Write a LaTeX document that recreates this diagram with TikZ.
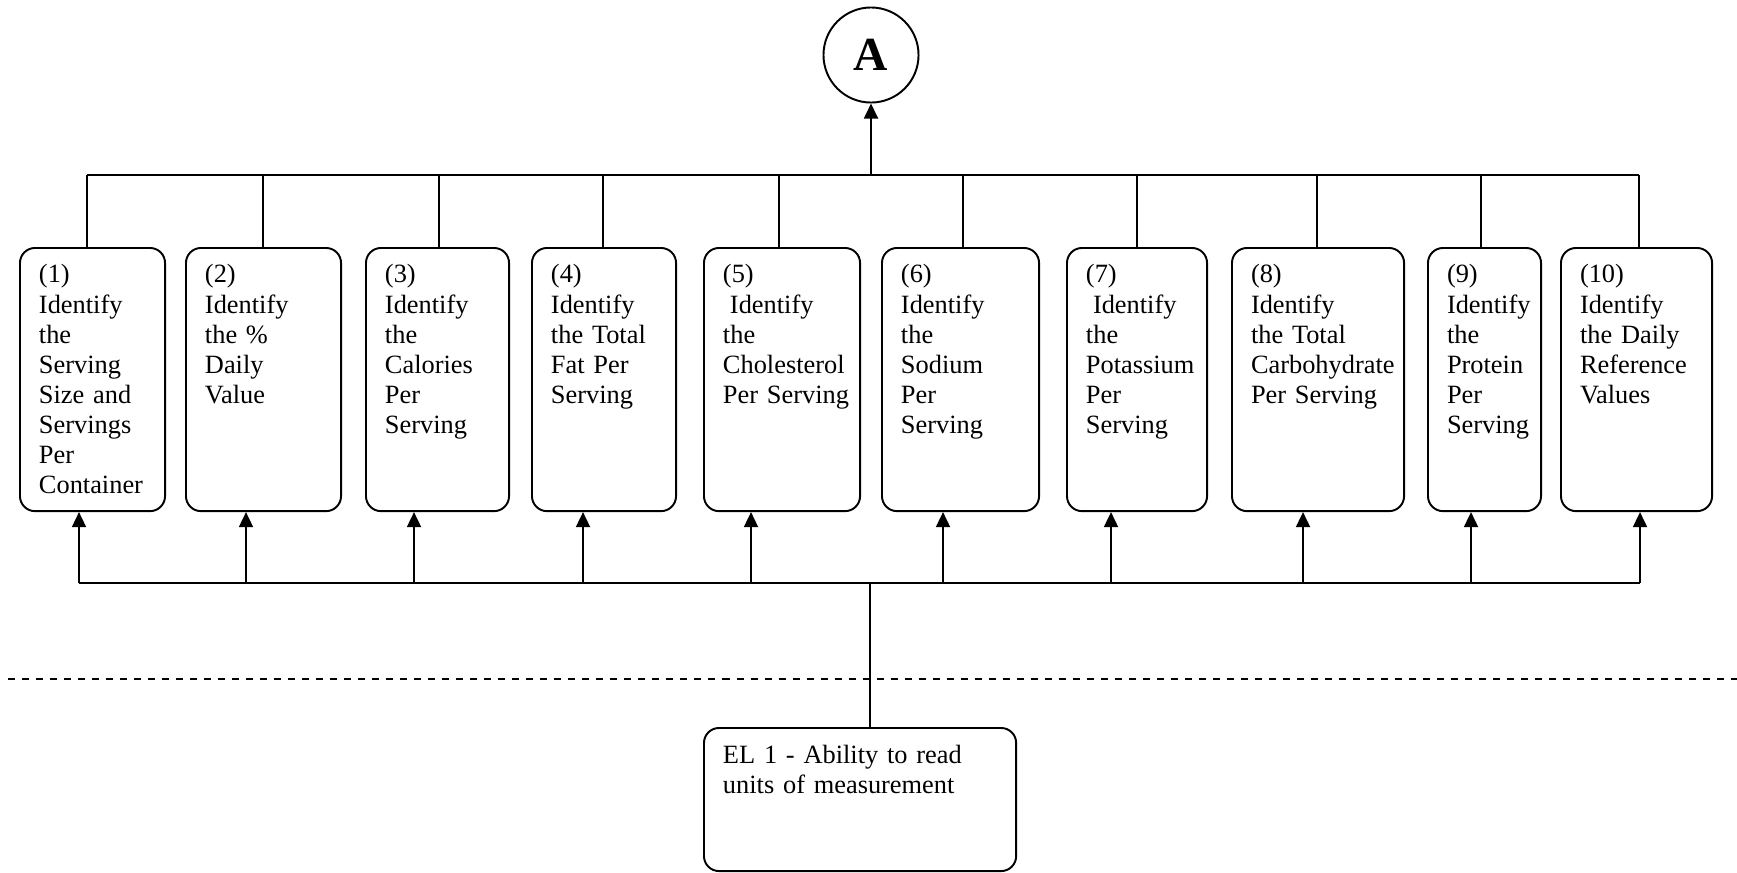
\documentclass[tikz,border=0pt]{standalone}
\usepackage{fontspec}
\setmainfont{Liberation Serif}
\usetikzlibrary{arrows.meta}

\begin{document}
\begin{tikzpicture}[
    x=0.01cm, y=-0.01cm,
    skill/.style={draw, line width=0.55pt, rounded corners=0.15cm, anchor=north west, align=left,
        inner xsep=0.19cm, inner ysep=0.17cm, text height=0.18cm, text depth=2.11cm,
        font=\fontsize{7.5}{8.54}\selectfont, execute at begin node={\hyphenpenalty=10000}},
    link/.style={line width=0.5pt},
    arrow/.style={-{Triangle[length=0.15cm, width=0.14cm]}, line width=0.5pt}
]
    \useasboundingbox (0,0) rectangle (1737,872);

    \node[draw, circle, line width=0.55pt, minimum size=0.95cm, inner sep=0pt,
          font=\fontsize{13.5}{16}\selectfont\bfseries] (A) at (871,55) {A};

    \node[skill, text width=1.07cm] (b1) at (19,247) {(1)\\Identify\\the\\Serving\\Size and\\Servings\\Per\\Container};
    \node[skill, text width=1.17cm] (b2) at (185,247) {(2)\\Identify\\the \%\\Daily\\Value};
    \node[skill, text width=1.05cm] (b3) at (365,247) {(3)\\Identify\\the\\Calories\\Per\\Serving};
    \node[skill, text width=1.06cm] (b4) at (531,247) {(4)\\Identify\\the Total\\Fat Per\\Serving};
    \node[skill, text width=1.18cm] (b5) at (703,247) {(5)\\\hspace*{0.07cm}Identify\\the\\Cholesterol\\Per~Serving};
    \node[skill, text width=1.19cm] (b6) at (881,247) {(6)\\Identify\\the\\Sodium\\Per\\Serving};
    \node[skill, text width=1.02cm] (b7) at (1066,247) {(7)\\\hspace*{0.07cm}Identify\\the\\Potassium\\Per\\Serving};
    \node[skill, text width=1.34cm] (b8) at (1231,247) {(8)\\Identify\\the Total\\Carbohydrate\\Per~Serving};
    \node[skill, text width=0.75cm] (b9) at (1427,247) {(9)\\Identify\\the\\Protein\\Per\\Serving};
    \node[skill, text width=1.13cm] (b10) at (1560,247) {(10)\\Identify\\the Daily\\Reference\\Values};

    \node[skill, text width=2.74cm, text depth=0.91cm] (el) at (703,727) {EL 1 - Ability to read\\units of measurement};

    % tree up to A
    \coordinate (top) at (871,175);
    \draw[arrow] (top) -- (A);
    \foreach \i/\x in {1/87, 2/263, 3/439, 4/603, 5/779, 6/963, 7/1137, 8/1317, 9/1481, 10/1639} {
        \coordinate (t\i) at (\x,175);
        \draw[link] (b\i.north -| t\i) -- (t\i);
    }
    \draw[link] (t1) -- (t10);

    % arrows up from EL 1
    \foreach \i/\x in {1/79, 2/246, 3/414, 4/583, 5/751, 6/943, 7/1111, 8/1303, 9/1471, 10/1640} {
        \coordinate (f\i) at (\x,583);
        \draw[arrow] (f\i) -- (f\i |- b\i.south);
    }
    \draw[link] (f1) -- (f10);
    \coordinate (hub) at (870,583);
    \draw[link] (hub) -- (hub |- el.north);

    % dashed separator
    \coordinate (sepL) at (8,679);
    \coordinate (sepR) at (1737,679);
    \draw[line width=0.8pt, dash pattern=on 0.07cm off 0.07cm] (sepL) -- (sepR);
\end{tikzpicture}
\end{document}
